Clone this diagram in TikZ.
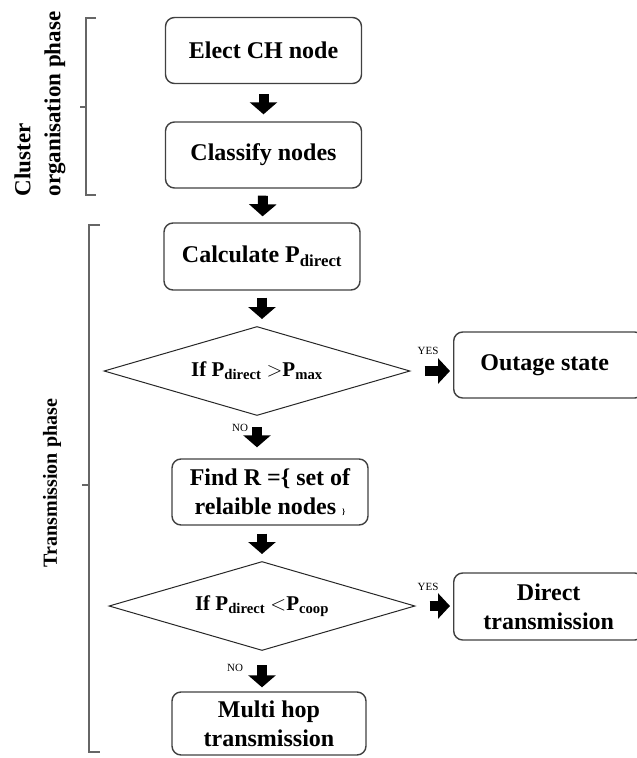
\documentclass[tikz,border=0pt]{standalone}
\usepackage{fontspec}
\setmainfont{Liberation Serif}
\usetikzlibrary{shapes.geometric,arrows.meta}

\tikzset{
  stepbox/.style={draw=black!75, line width=1.4pt, rounded corners=9pt, minimum width=196pt, minimum height=66pt, align=center, inner sep=2pt, font=\bfseries\fontsize{24}{29}\selectfont},
  decision/.style={draw=black!85, line width=1pt, diamond, aspect=3.44, minimum width=306pt, minimum height=89pt, inner sep=0pt, font=\bfseries\fontsize{21}{24}\selectfont},
  blk/.style={line width=10pt, -{Triangle[width=27pt,length=12pt]}, shorten <=7pt, shorten >=7pt},
  yesblk/.style={line width=10pt, -{Triangle[width=25pt,length=12pt]}, shorten <=14pt, shorten >=3pt},
  tag/.style={font=\fontsize{11}{13}\selectfont, inner sep=0pt},
  phase/.style={rotate=90, align=left, font=\bfseries\fontsize{23}{30}\selectfont},
  brack/.style={draw=black!60, line width=1.6pt}
}

\begin{document}
\begin{tikzpicture}[x=1pt,y=-1pt]
\useasboundingbox (0,0) rectangle (637,758);

% cluster organisation phase
\node[stepbox] (elect) at (263.5,50.5) {Elect CH node};
\node[stepbox] (classify) at (263.5,155) {Classify nodes};

% transmission phase
\node[stepbox, minimum height=67pt] (calc) at (262,256.5) {Calculate P\textsubscript{direct}};
\node[decision] (d1) at (257,371) {If P\textsubscript{direct} $>$P\textsubscript{max}};
\node[stepbox, minimum width=190pt, anchor=west] (outage) at (453,365) {\hspace*{-8pt}Outage state};
\node[stepbox] (find) at (270,492) {Find R =\{ set of\\relaible nodes {\footnotesize\}}};
\node[decision] (d2) at (262,606) {If P\textsubscript{direct} $<$P\textsubscript{coop}};
\node[stepbox, minimum width=190pt, minimum height=67pt, anchor=west] (direct) at (453,606.5) {Direct\\transmission};
\node[stepbox, minimum width=194pt, minimum height=63pt] (multi) at (269,723.5) {Multi hop\\transmission};

% arrows
\draw[blk, shorten <=10pt] (elect) -- (classify);
\draw[blk, shorten >=6pt] (classify) -- (calc);
\draw[blk] (calc) -- (calc |- d1.north);
\draw[blk, shorten <=11pt, shorten >=11pt] (d1.south) -- (d1.south |- find.north);
\draw[blk, shorten <=8pt] (d2 |- find.south) -- (d2.north);
\draw[blk, shorten <=14pt, shorten >=4pt] (d2.south) -- (d2.south |- multi.north);
\draw[yesblk] (d1.east) -- (d1.east -| outage.west);
\draw[yesblk] (d2.east) -- (d2.east -| direct.west);

\node[tag] (yes1) at (428,351) {YES};
\node[tag] (yes2) at (428,587) {YES};
\node[tag] (no1) at (240,428) {NO};
\node[tag] (no2) at (235,668) {NO};

% brackets
\draw[brack] (96,18) -- (86,18) -- (86,195) -- (96,195);
\draw[brack] (86,107) -- (80,107);
\draw[brack] (100,225) -- (89,225) -- (89,752) -- (100,752);
\draw[brack] (89,485) -- (82,485);

\node[phase] (cluster) at (40,104) {Cluster\\organisation phase};
\node[phase, font=\bfseries\fontsize{20}{24}\selectfont] (trans) at (52,483) {Transmission phase};

\end{tikzpicture}
\end{document}
